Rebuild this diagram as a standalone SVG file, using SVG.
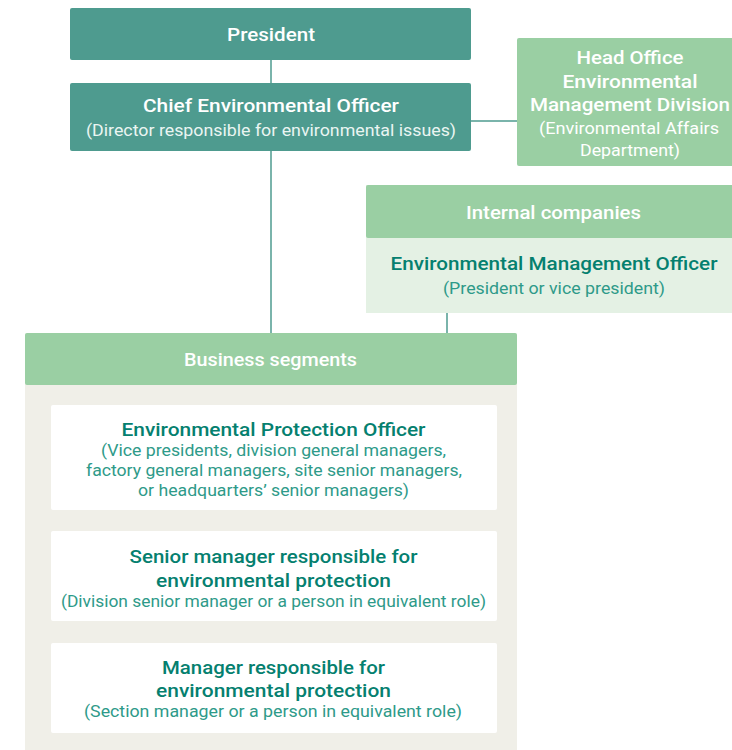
<svg xmlns="http://www.w3.org/2000/svg" width="732" height="750" viewBox="0 0 732 750">
<style>
text{font-family:Roboto,"Liberation Sans",sans-serif;text-anchor:middle}
.t{font-size:19px;font-weight:500}
.s{font-size:16px;font-weight:400}
.w{fill:#ffffff}
.wl{fill:#eaf5f2}
.g{fill:#05806f}
.gs{fill:#2e9a89}
.line{stroke:#4e9b8f;stroke-width:1.5;fill:none}
</style>
<rect width="732" height="750" fill="#ffffff"/>
<g id="connectors">
<line class="line" x1="271" y1="60" x2="271" y2="83"/>
<line class="line" x1="271" y1="151" x2="271" y2="333"/>
<line class="line" x1="471" y1="121" x2="517" y2="121"/>
<line class="line" x1="447" y1="313" x2="447" y2="333"/>
<line class="line" x1="271" y1="385" x2="271" y2="405"/>
<line class="line" x1="271" y1="510" x2="271" y2="531"/>
<line class="line" x1="271" y1="621" x2="271" y2="643"/>
</g>
<g id="president">
<rect x="70" y="8" width="401" height="52" rx="2" fill="#4e9b8f"/>
<text class="t w" x="271" y="41" textLength="88" lengthAdjust="spacingAndGlyphs">President</text>
</g>
<g id="chief">
<rect x="70" y="83" width="401" height="68" rx="2" fill="#4e9b8f"/>
<text class="t w" x="271" y="112" textLength="256" lengthAdjust="spacingAndGlyphs">Chief Environmental Officer</text>
<text class="s wl" x="271" y="136" textLength="370" lengthAdjust="spacingAndGlyphs">(Director responsible for environmental issues)</text>
</g>
<g id="headoffice">
<rect x="517" y="38" width="220" height="128" rx="2" fill="#9acfa3"/>
<text class="t w" x="630" y="64" textLength="107" lengthAdjust="spacingAndGlyphs">Head Office</text>
<text class="t w" x="630" y="88" textLength="135" lengthAdjust="spacingAndGlyphs">Environmental</text>
<text class="t w" x="630" y="111" textLength="200" lengthAdjust="spacingAndGlyphs">Management Division</text>
<text class="s w" x="629" y="134" textLength="180" lengthAdjust="spacingAndGlyphs">(Environmental Affairs</text>
<text class="s w" x="630" y="156" textLength="100" lengthAdjust="spacingAndGlyphs">Department)</text>
</g>
<g id="internal">
<rect x="366" y="185" width="370" height="128" fill="#e4f1e4"/>
<rect x="366" y="185" width="370" height="53" rx="2" fill="#9acfa3"/>
<text class="t w" x="553.5" y="219" textLength="175" lengthAdjust="spacingAndGlyphs">Internal companies</text>
<text class="t g" x="554" y="270" textLength="327" lengthAdjust="spacingAndGlyphs">Environmental Management Officer</text>
<text class="s gs" x="554" y="294" textLength="222" lengthAdjust="spacingAndGlyphs">(President or vice president)</text>
</g>
<g id="business">
<rect x="25" y="333" width="492" height="420" rx="2" fill="#f0efe8"/>
<rect x="25" y="333" width="492" height="52" rx="2" fill="#9acfa3"/>
<text class="t w" x="270.5" y="366" textLength="173" lengthAdjust="spacingAndGlyphs">Business segments</text>
</g>
<g id="epo">
<rect x="51" y="405" width="446" height="105" rx="2" fill="#ffffff"/>
<text class="t g" x="273.5" y="436" textLength="304" lengthAdjust="spacingAndGlyphs">Environmental Protection Officer</text>
<text class="s gs" x="273.5" y="456" textLength="345" lengthAdjust="spacingAndGlyphs">(Vice presidents, division general managers,</text>
<text class="s gs" x="274" y="476" textLength="376" lengthAdjust="spacingAndGlyphs">factory general managers, site senior managers,</text>
<text class="s gs" x="273.5" y="496" textLength="271" lengthAdjust="spacingAndGlyphs">or headquarters’ senior managers)</text>
</g>
<g id="senior">
<rect x="51" y="531" width="446" height="90" rx="2" fill="#ffffff"/>
<text class="t g" x="273.5" y="563" textLength="288" lengthAdjust="spacingAndGlyphs">Senior manager responsible for</text>
<text class="t g" x="273.5" y="587" textLength="235" lengthAdjust="spacingAndGlyphs">environmental protection</text>
<text class="s gs" x="273.5" y="607" textLength="425" lengthAdjust="spacingAndGlyphs">(Division senior manager or a person in equivalent role)</text>
</g>
<g id="manager">
<rect x="51" y="643" width="446" height="90" rx="2" fill="#ffffff"/>
<text class="t g" x="273.5" y="674" textLength="223" lengthAdjust="spacingAndGlyphs">Manager responsible for</text>
<text class="t g" x="273.5" y="697" textLength="235" lengthAdjust="spacingAndGlyphs">environmental protection</text>
<text class="s gs" x="273" y="717" textLength="378" lengthAdjust="spacingAndGlyphs">(Section manager or a person in equivalent role)</text>
</g>
</svg>
